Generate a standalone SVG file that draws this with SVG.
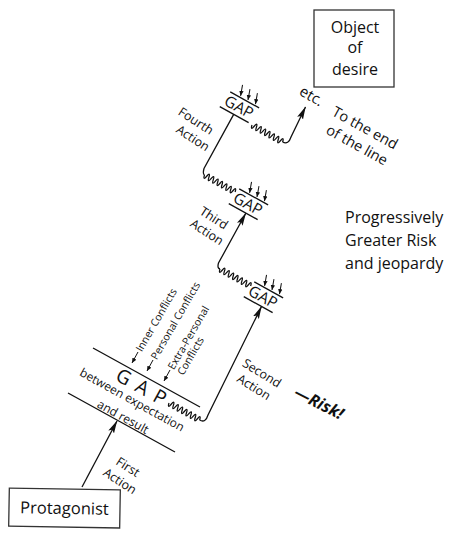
<svg xmlns="http://www.w3.org/2000/svg" width="462" height="540" viewBox="0 0 462 540">
<defs>
<style>
text{font-family:"Open Sans","Noto Sans","DejaVu Sans",sans-serif;fill:#111}
.ln{stroke:#111;stroke-width:1.3;fill:none}
.box{fill:#fff;stroke:#333;stroke-width:1.3}
.sm{stroke:#111;stroke-width:1;fill:none;marker-end:url(#sa)}
.ar{marker-end:url(#ah)}
.lab{font-size:12.5px}
.gap{font-size:15.5px}
.cf{font-size:10.5px}
.big{font-size:16px}
.far{font-size:14.5px}
</style>
<marker id="ah" markerUnits="userSpaceOnUse" markerWidth="13" markerHeight="8" viewBox="0 0 13 8" refX="12.5" refY="4" orient="auto"><path d="M0,0.8 L13,4 L0,7.2 L2.5,4 z" fill="#111"/></marker>
<marker id="sa" markerUnits="userSpaceOnUse" markerWidth="5" markerHeight="5" viewBox="0 0 5 5" refX="5" refY="2.5" orient="auto"><path d="M0,0.3 L5,2.5 L0,4.7 z" fill="#111"/></marker>
<path id="wave" class="ln" stroke-width="1.1" d="M0,0 q1.25,6 2.5,0 t2.5,0 t2.5,0 t2.5,0 t2.5,0 t2.5,0 t2.5,0 t2.5,0 t2.5,0 t2.5,0 t2.5,0 t2.5,0 t2.5,0 t2.5,0"/>
</defs>

<g id="protagonist" transform="rotate(1,64,508)">
<rect class="box" x="9" y="489" width="111" height="38"/>
<text x="64.5" y="514" text-anchor="middle" font-size="16.5">Protagonist</text>
</g>

<g id="object-of-desire">
<rect class="box" x="314" y="10" width="80" height="77"/>
<text class="big" x="355" y="33" text-anchor="middle">Object</text>
<text class="big" x="355" y="53" text-anchor="middle">of</text>
<text class="big" x="355" y="75" text-anchor="middle">desire</text>
</g>

<g id="gap-main">
<line class="ln" x1="93" y1="348" x2="200" y2="407"/>
<line class="ln" x1="68" y1="393" x2="175" y2="452"/>
<text transform="translate(142,387) rotate(29)" x="0" y="7" text-anchor="middle" font-size="19.5" letter-spacing="1.5">G A P</text>
<text transform="translate(132,400) rotate(29)" y="4" text-anchor="middle" font-size="12">between expectation</text>
<text transform="translate(123,417) rotate(29)" y="4" text-anchor="middle" font-size="12">and result</text>
<path class="sm" d="M138,352 L132,363"/>
<path class="sm" d="M153,360 L147,371"/>
<path class="sm" d="M170,370 L164,381"/>
<text class="cf" transform="translate(141.8,352.5) rotate(-60)">Inner Conflicts</text>
<text class="cf" transform="translate(156.8,360.4) rotate(-60)">Personal Conflicts</text>
<text class="cf" transform="translate(173.8,370.4) rotate(-60)">Extra-Personal</text>
<text class="cf" transform="translate(183.3,375.9) rotate(-60)">Conflicts</text>
</g>

<g id="gap-2" transform="translate(263,297) rotate(29)">
<line class="ln" x1="-15" y1="-9" x2="18" y2="-9"/>
<line class="ln" x1="-17" y1="9" x2="16" y2="9"/>
<text class="gap" x="0" y="5.4" text-anchor="middle">GAP</text>
<path class="sm" d="M-7.6,-21 L-4,-10.5"/>
<path class="sm" d="M0.9,-21 L4.5,-10.5"/>
<path class="sm" d="M9.4,-21 L13,-10.5"/>
</g>

<g id="gap-3" transform="translate(248,204) rotate(29)">
<line class="ln" x1="-15" y1="-9" x2="18" y2="-9"/>
<line class="ln" x1="-17" y1="9" x2="16" y2="9"/>
<text class="gap" x="0" y="5.4" text-anchor="middle">GAP</text>
<path class="sm" d="M-7.6,-21 L-4,-10.5"/>
<path class="sm" d="M0.9,-21 L4.5,-10.5"/>
<path class="sm" d="M9.4,-21 L13,-10.5"/>
</g>

<g id="gap-4" transform="translate(239,107) rotate(29)">
<line class="ln" x1="-15" y1="-9" x2="18" y2="-9"/>
<line class="ln" x1="-17" y1="9" x2="16" y2="9"/>
<text class="gap" x="0" y="5.4" text-anchor="middle">GAP</text>
<path class="sm" d="M-7.6,-21 L-4,-10.5"/>
<path class="sm" d="M0.9,-21 L4.5,-10.5"/>
<path class="sm" d="M9.4,-21 L13,-10.5"/>
</g>

<g id="connectors">
<path class="ln ar" d="M82,487 L117,421"/>
<use href="#wave" transform="translate(169,403) rotate(29)"/>
<path class="ln ar" d="M199.6,420 Q205.5,423.5 208,415 L261.5,306.5"/>
<use href="#wave" transform="translate(220,269) rotate(29)"/>
<path class="ln ar" d="M220,269 Q217,268.5 218.5,263 L245.8,213.3"/>
<use href="#wave" transform="translate(204.5,175) rotate(29)"/>
<path class="ln" d="M233.7,114.4 L204,168.5 Q202.5,174 204.5,175"/>
<use href="#wave" transform="translate(252,125) rotate(29)"/>
<path class="ln ar" d="M282.6,142 Q288.5,145 291,137 L305.5,107"/>
</g>

<g id="labels">
<text class="lab" transform="translate(128,467) rotate(33)" y="4.4" text-anchor="middle">First</text>
<text class="lab" transform="translate(120,481) rotate(33)" y="4.4" text-anchor="middle">Action</text>
<text class="lab" transform="translate(262,373) rotate(32)" y="4.5" text-anchor="middle" font-size="13">Second</text>
<text class="lab" transform="translate(254,387) rotate(32)" y="4.5" text-anchor="middle" font-size="13">Action</text>
<text transform="translate(319,403) rotate(27)" y="5.5" text-anchor="middle" font-size="16.5" font-weight="bold" font-style="italic">—Risk!</text>
<text class="lab" transform="translate(214,218) rotate(33)" y="4.4" text-anchor="middle">Third</text>
<text class="lab" transform="translate(207,232) rotate(33)" y="4.4" text-anchor="middle">Action</text>
<text class="lab" transform="translate(196,121) rotate(33)" y="4.4" text-anchor="middle">Fourth</text>
<text class="lab" transform="translate(193,138) rotate(33)" y="4.4" text-anchor="middle">Action</text>
<text transform="translate(311,97) rotate(30)" y="4" text-anchor="middle" font-size="15">etc.</text>
<text class="far" transform="translate(365,128) rotate(29)" y="5" text-anchor="middle">To the end</text>
<text class="far" transform="translate(357,145) rotate(29)" y="5" text-anchor="middle">of the line</text>
<text class="big" x="345" y="223">Progressively</text>
<text class="big" x="345" y="246">Greater Risk</text>
<text class="big" x="345" y="269">and jeopardy</text>
</g>
</svg>
